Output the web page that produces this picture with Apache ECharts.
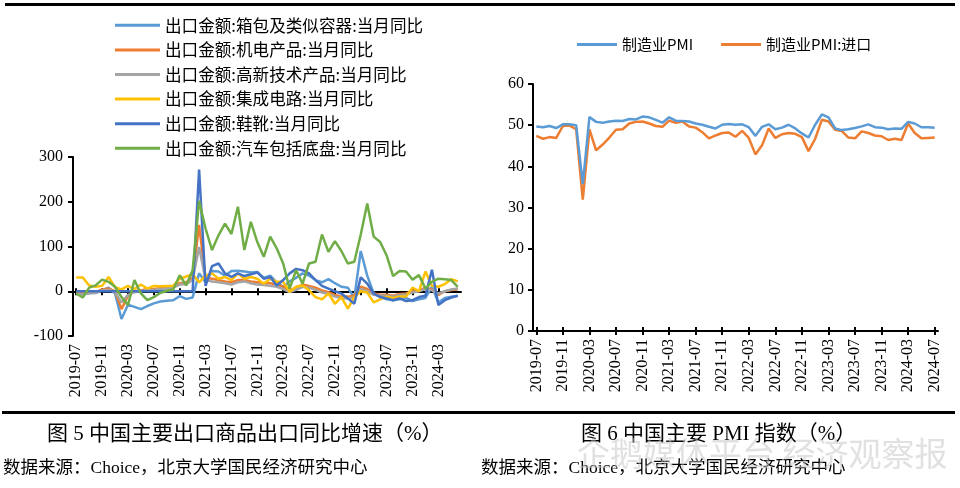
<!DOCTYPE html>
<html><head><meta charset="utf-8">
<script src="https://cdn.jsdelivr.net/npm/echarts@6/dist/echarts.min.js"></script>
<style>html,body{margin:0;padding:0;background:#fff}#c{width:960px;height:488px}</style>
</head><body><div id="c"></div>
<script>
const months = ['2019-07','2019-08','2019-09','2019-10','2019-11','2019-12',
'2020-01','2020-02','2020-03','2020-04','2020-05','2020-06','2020-07','2020-08','2020-09','2020-10','2020-11','2020-12',
'2021-01','2021-02','2021-03','2021-04','2021-05','2021-06','2021-07','2021-08','2021-09','2021-10','2021-11','2021-12',
'2022-01','2022-02','2022-03','2022-04','2022-05','2022-06','2022-07','2022-08','2022-09','2022-10','2022-11','2022-12',
'2023-01','2023-02','2023-03','2023-04','2023-05','2023-06','2023-07','2023-08','2023-09','2023-10','2023-11','2023-12',
'2024-01','2024-02','2024-03','2024-04','2024-05','2024-06','2024-07'];
const monthsLeft = months.slice(0, 60);

const seriesNamesLeft = ['出口金额:箱包及类似容器:当月同比','出口金额:机电产品:当月同比','出口金额:高新技术产品:当月同比','出口金额:集成电路:当月同比','出口金额:鞋靴:当月同比','出口金额:汽车包括底盘:当月同比'];
const bagsYoY = [-3,-4,-2,-3,2,8,-5,-62,-30,-35, -40,-33,-27,-23,-21,-20,-11,-17,-14,40, 20,45,44,35,45,46,44,42,43,30, 35,20,10,22,30,40,35,25,20,27, 18,10,8,-15,90,35,-5,-12,-18,-20, -18,-15,-22,-18,-15,10,-25,-15,-12,-10];
const mechYoY = [-4,-5,-3,-2,4,6,0,-40,-10,0, 2,5,5,7,8,10,18,20,30,148, 30,28,25,22,20,25,25,22,20,18, 18,15,10,2,8,15,12,8,2,-2, -8,-12,-12,-10,10,5,-5,-8,-8,-10, -6,-5,0,2,8,4,-8,0,3,4];
const hitechYoY = [-6,-7,-5,-4,2,3,-2,-25,-8,-2, 0,3,3,5,6,8,15,16,25,99, 25,22,20,18,15,20,22,18,15,14, 12,10,5,-2,3,10,8,3,-3,-6, -12,-15,-16,-14,5,0,-8,-10,-10,-12, -8,-7,-3,0,5,2,-5,0,4,6];
const icYoY = [31,31,13,10,12,32,9,4,12,5, 15,6,12,11,12,12,28,33,38,20, 35,40,28,32,25,40,28,32,28,17, 28,21,21,-1,10,13,2,-13,-18,-5, -28,-13,-39,-13,0,-3,-25,-18,-12,-15, -12,-12,8,0,44,12,10,16,27,22];
const shoesYoY = [0,0,0,0,0,0,0,0,0,0, 0,0,0,0,0,0,0,0,0,272, 12,56,62,40,32,40,34,38,42,28, 32,13,25,40,50,47,40,25,12,6, 0,-5,-16,-28,31,17,-5,-13,-16,-20, -16,-22,-20,-13,-10,48,-31,-20,-14,-10];
const autoYoY = [-5,-14,8,13,26,21,10,-13,-31,25, -5,-20,-13,-4,1,4,36,13,47,202, 140,92,125,151,128,189,92,155,110,77, 122,96,62,6,47,17,62,66,127,88, 112,90,62,66,127,196,122,110,80,34, 45,44,26,36,6,21,28,27,25,10];

const seriesNamesRight = ['制造业PMI','制造业PMI:进口'];
const pmi = [49.7,49.5,49.8,49.3,50.2,50.2, 50.0,35.7,52.0,50.8,50.6,50.9,51.1,51.0,51.5,51.4,52.1,51.9, 51.3,50.6,51.9,51.1,51.0,50.9,50.4,50.1,49.6,49.2,50.1,50.3, 50.1,50.2,49.5,47.4,49.6,50.2,49.0,49.4,50.1,49.2,48.0,47.0, 50.1,52.6,51.9,49.2,48.8,49.0,49.3,49.7,50.2,49.5,49.4,49.0, 49.2,49.1,50.8,50.4,49.5,49.5,49.4];
const pmiImport = [47.4,46.7,47.1,46.9,49.8,49.9, 49.0,31.9,49.0,43.9,45.3,47.0,48.9,49.0,50.4,50.8,50.9,50.4, 49.8,49.6,51.1,50.6,50.9,49.7,49.4,48.3,46.8,47.5,48.1,48.2, 47.2,48.6,46.9,42.9,45.1,49.2,46.9,47.8,48.1,47.9,47.1,43.7, 46.7,51.3,50.9,48.9,48.6,47.0,46.8,48.5,48.1,47.5,47.3,46.4, 46.7,46.4,50.4,48.1,46.8,46.9,47.0];

const leftTicks = {min: -100, max: 300, interval: 100};
const rightTicks = {min: 0, max: 60, interval: 10};

const colorsLeft = ['#5B9BD5','#ED7D31','#A5A5A5','#FFC000','#4472C4','#70AD47'];
const colorsRight = ['#5B9BD5','#ED7D31'];
const serif = "'Liberation Serif','Times New Roman','Noto Sans CJK SC',serif";
const cjk = "'Noto Sans CJK SC','Liberation Sans',sans-serif";

const chart = echarts.init(document.getElementById('c'));
const axisBlack = {color:'#000', width:2};
const leftData = [bagsYoY, mechYoY, hitechYoY, icYoY, shoesYoY, autoYoY];

const option = {
  animation: false,
  backgroundColor: '#fff',
  grid: [
    {left:73, top:157, width:388, height:179},
    {left:533, top:84, width:405, height:247}
  ],
  legend: [
    {data: seriesNamesLeft, orient:'vertical', left:115, top:17, padding:0, icon:'rect', itemWidth:45, itemHeight:3, itemGap:8,
     textStyle:{fontSize:16.6, lineHeight:16, fontFamily:cjk, color:'#000'}},
    {data: seriesNamesRight, orient:'horizontal', left:577, top:37, padding:0, icon:'rect', itemWidth:40, itemHeight:3, itemGap:28,
     textStyle:{fontSize:15, lineHeight:15, fontFamily:cjk, color:'#000'}}
  ],
  xAxis: [
    {gridIndex:0, type:'category', data:monthsLeft, boundaryGap:true, position:'bottom',
     axisLine:{show:true, onZero:true, lineStyle:axisBlack},
     axisTick:{show:true, interval:3, alignWithLabel:true, length:4, lineStyle:axisBlack},
     axisLabel:{show:false}, splitLine:{show:false}, z:1},
    {gridIndex:0, type:'category', data:monthsLeft, boundaryGap:true, position:'bottom',
     axisLine:{show:false, onZero:false}, axisTick:{show:false},
     axisLabel:{show:true, interval:3, rotate:90, margin:8, fontSize:16, fontFamily:serif, color:'#000'},
     splitLine:{show:false}},
    {gridIndex:0, type:'category', data:monthsLeft, boundaryGap:true, position:'bottom',
     axisLine:{show:false, onZero:true, onZeroAxisIndex:1},
     axisTick:{show:true, inside:true, interval:3, alignWithLabel:true, length:3, lineStyle:axisBlack},
     axisLabel:{show:false}, splitLine:{show:false}},
    {gridIndex:1, type:'category', data:months, boundaryGap:true, position:'bottom',
     axisLine:{show:true, onZero:false, lineStyle:axisBlack},
     axisTick:{show:true, interval:3, alignWithLabel:true, length:4, lineStyle:axisBlack},
     axisLabel:{show:true, interval:3, rotate:90, margin:8, fontSize:16, fontFamily:serif, color:'#000'},
     splitLine:{show:false}},
    {gridIndex:1, type:'category', data:months, boundaryGap:true, position:'bottom',
     axisLine:{show:false, onZero:false},
     axisTick:{show:true, inside:true, interval:3, alignWithLabel:true, length:4, lineStyle:axisBlack},
     axisLabel:{show:false}, splitLine:{show:false}}
  ],
  yAxis: [
    {gridIndex:0, type:'value', min:leftTicks.min, max:leftTicks.max, interval:leftTicks.interval,
     axisLine:{show:true, lineStyle:axisBlack}, axisTick:{show:true, length:5, lineStyle:axisBlack},
     axisLabel:{fontSize:16, fontFamily:serif, color:'#000', margin:10}, splitLine:{show:false}},
    {gridIndex:0, type:'value', min:leftTicks.min, max:leftTicks.max, interval:leftTicks.interval, show:false},
    {gridIndex:1, type:'value', min:rightTicks.min, max:rightTicks.max, interval:rightTicks.interval,
     axisLine:{show:true, lineStyle:axisBlack}, axisTick:{show:true, length:5, lineStyle:axisBlack},
     axisLabel:{fontSize:16, fontFamily:serif, color:'#000', margin:9}, splitLine:{show:false}}
  ],
  series: [
    ...seriesNamesLeft.map((n, k) => ({
      name:n, type:'line', xAxisIndex:0, yAxisIndex:0, data:leftData[k], symbol:'none',
      lineStyle:{width:2.5, color:colorsLeft[k]}, itemStyle:{color:colorsLeft[k]}, z:2+k
    })),
    ...seriesNamesRight.map((n, k) => ({
      name:n, type:'line', xAxisIndex:3, yAxisIndex:2, data:[pmi, pmiImport][k], symbol:'none',
      lineStyle:{width:2.5, color:colorsRight[k]}, itemStyle:{color:colorsRight[k]}, z:3-k
    }))
  ],
  graphic: [
    {type:'rect', shape:{x:5, y:3, width:950, height:3}, style:{fill:'#000'}},
    {type:'rect', shape:{x:2, y:411, width:953, height:3}, style:{fill:'#000'}},
    {type:'text', left:47, top:424, style:{text:'图 5 中国主要出口商品出口同比增速（%）', font:"21px "+serif, fill:'#000'}},
    {type:'text', left:581, top:424, style:{text:'图 6 中国主要 PMI 指数（%）', font:"21px "+serif, fill:'#000'}},
    {type:'text', left:3, top:460, style:{text:'数据来源：Choice，北京大学国民经济研究中心', font:"17.5px "+serif, fill:'#000'}},
    {type:'text', left:481, top:460, style:{text:'数据来源：Choice，北京大学国民经济研究中心', font:"17.5px "+serif, fill:'#000'}},
    {type:'text', left:577, top:437, z:100, style:{text:'企鹅媒体平台 经济观察报', font:"33px "+cjk, fill:'rgba(195,195,195,0.5)'}}
  ]
};
chart.setOption(option);
</script></body></html>
